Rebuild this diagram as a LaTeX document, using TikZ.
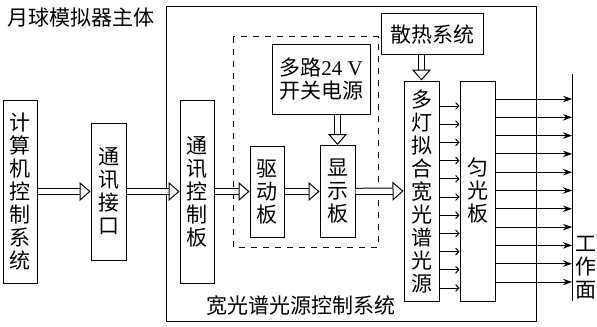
\documentclass[tikz,border=0pt]{standalone}
\usepackage{fontspec}
\setmainfont{Noto Sans CJK SC}
\newfontfamily\latin{Liberation Serif}
\usetikzlibrary{arrows.meta,positioning,calc}

\begin{document}
\begin{tikzpicture}[x=0.5pt,y=-0.5pt,line width=0.5pt,
    font=\fontsize{10.5}{11.5}\selectfont,
    blk/.style={draw,inner sep=0pt,align=center},
    hollow/.style={double,double distance=2.6pt,
      -{Triangle[open,length=5.5pt,width=9.5pt]}},
    ray/.style={-{Stealth[length=4.5pt,width=3.2pt]}},
    tiny/.style={-{Straight Barb[length=1.6pt,width=3.4pt]}}]
  \useasboundingbox (0,0) rectangle (597,326);
  % frames
  \node (title) at (81,18) {月球模拟器主体};
  \draw (166,7) rectangle (536,321);
  \draw[dashed] (233,37) rectangle (378,247);
  \node (lbl) at (301,306) {宽光谱光源控制系统};
  % blocks
  \node[blk,minimum width=17pt,minimum height=91.5pt] (sys) at (20,191.5)
    {计\\算\\机\\控\\制\\系\\统};
  \node[blk,minimum width=17.5pt,minimum height=68.5pt] (port) at (108.5,191.5)
    {通\\讯\\接\\口};
  \node[blk,minimum width=17pt,minimum height=91.5pt] (ctrl) at (197,191.5)
    {通\\讯\\控\\制\\板};
  \node[blk,minimum width=17pt,minimum height=45.5pt] (drive) at (267,191.5)
    {驱\\动\\板};
  \node[blk,minimum width=17.5pt,minimum height=46pt] (disp) at (337.5,191.5)
    {显\\示\\板};
  \node[blk,minimum width=49pt,minimum height=34.5pt] (psu) at (321,79.5)
    {多路{\latin 24 V}\\开关电源};
  \node[blk,minimum width=51pt,minimum height=20.5pt] (cool) at (432,34.5)
    {散热系统};
  \node[blk,minimum width=17.5pt,minimum height=110pt] (lamp) at (421.5,191)
    {多\\灯\\拟\\合\\宽\\光\\谱\\光\\源};
  \node[blk,minimum width=17.5pt,minimum height=110pt] (homog) at (477.5,191)
    {匀\\光\\板};
  % work plane
  \coordinate (ptop) at (572,74);
  \coordinate (pbot) at (572,301);
  \draw (ptop) -- (pbot);
  \node[align=center] (plane) at (586,268) {工\\作\\面};
  % connectors
  \draw[hollow] (sys) -- (port);
  \draw[hollow] (port) -- (ctrl);
  \draw[hollow] (ctrl) -- (drive);
  \draw[hollow] (drive) -- (disp);
  \draw[hollow] (disp) -- (lamp);
  \draw[hollow] (psu.south -| disp) -- (disp);
  \draw[hollow] (cool.south -| lamp) -- (lamp);
  \foreach \i in {0,...,10} {
    \draw[tiny] (lamp.east |- 0,{106+18.2*\i}) -- (homog.west |- 0,{106+18.2*\i});
    \draw[ray] (homog.east |- 0,{99+18.3*\i}) -- (ptop |- 0,{99+18.3*\i});
  }
\end{tikzpicture}
\end{document}
